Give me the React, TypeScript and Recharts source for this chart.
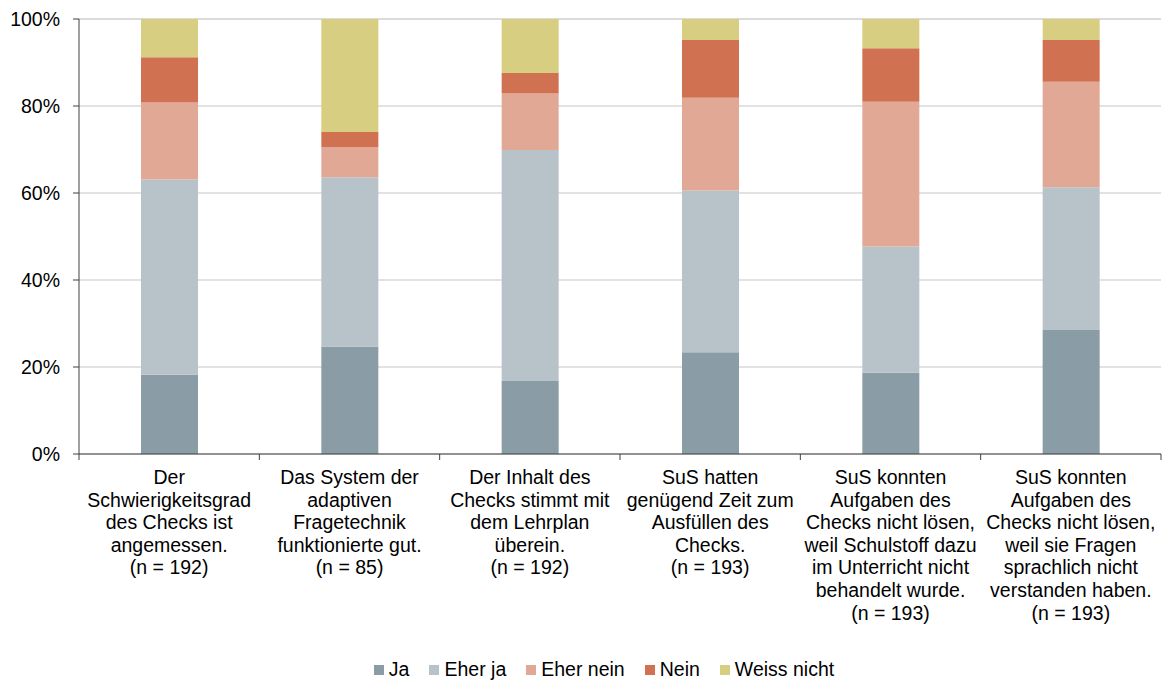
import { Bar, BarChart, CartesianGrid, Legend, XAxis, YAxis } from "recharts";

const categories = [
  "Der\nSchwierigkeitsgrad\ndes Checks ist\nangemessen.\n(n = 192)",
  "Das System der\nadaptiven\nFragetechnik\nfunktionierte gut.\n(n = 85)",
  "Der Inhalt des\nChecks stimmt mit\ndem Lehrplan\nüberein.\n(n = 192)",
  "SuS hatten\ngenügend Zeit zum\nAusfüllen des\nChecks.\n(n = 193)",
  "SuS konnten\nAufgaben des\nChecks nicht lösen,\nweil Schulstoff dazu\nim Unterricht nicht\nbehandelt wurde.\n(n = 193)",
  "SuS konnten\nAufgaben des\nChecks nicht lösen,\nweil sie Fragen\nsprachlich nicht\nverstanden haben.\n(n = 193)"
];

const ja = [18.2, 24.7, 16.8, 23.4, 18.7, 28.5];
const eherJa = [44.9, 38.9, 53.1, 37.2, 29.0, 32.8];
const eherNein = [17.7, 7.0, 13.0, 21.3, 33.3, 24.3];
const nein = [10.4, 3.4, 4.7, 13.3, 12.3, 9.6];
const weissNicht = [8.8, 26.0, 12.4, 4.8, 6.7, 4.8];

const yTicks = [0, 20, 40, 60, 80, 100];

const series = [
  { key: "ja", name: "Ja", color: "#8a9ca6" },
  { key: "eherJa", name: "Eher ja", color: "#b7c3c8" },
  { key: "eherNein", name: "Eher nein", color: "#e2a896" },
  { key: "nein", name: "Nein", color: "#d07152" },
  { key: "weissNicht", name: "Weiss nicht", color: "#d8ce82" }
];

const data = categories.map((label, i) => ({
  label,
  ja: ja[i],
  eherJa: eherJa[i],
  eherNein: eherNein[i],
  nein: nein[i],
  weissNicht: weissNicht[i]
}));

const WIDTH = 1163;
const HEIGHT = 681;
const margin = { top: 19, right: 2, bottom: 0, left: 0 };
const yAxisWidth = 79;
const band = (WIDTH - margin.left - margin.right - yAxisWidth) / categories.length;
const font = '"Liberation Sans", Arial, sans-serif';
const fontSize = 19.5;
const axisColor = "#404040";

function CategoryTick(props: any) {
  const { x, y, payload, index } = props;
  const lines = String(payload.value).split("\n");
  const axisY = y - 6;
  return (
    <g>
      <line x1={x - band / 2} x2={x - band / 2} y1={axisY} y2={axisY + 6} stroke={axisColor} />
      {index === categories.length - 1 ? (
        <line x1={x + band / 2} x2={x + band / 2} y1={axisY} y2={axisY + 6} stroke={axisColor} />
      ) : null}
      <text x={x} y={axisY + 30} textAnchor="middle" fontSize={fontSize} fill="#000" fontFamily={font}>
        {lines.map((line, i) => (
          <tspan key={i} x={x} dy={i === 0 ? 0 : 22.6}>
            {line}
          </tspan>
        ))}
      </text>
    </g>
  );
}

function LegendContent() {
  return (
    <div
      style={{
        display: "flex",
        justifyContent: "center",
        alignItems: "center",
        gap: 20,
        height: 24,
        fontFamily: font,
        fontSize,
        color: "#000",
        paddingLeft: 47
      }}
    >
      {series.map((s) => (
        <div key={s.key} style={{ display: "flex", alignItems: "center" }}>
          <span style={{ width: 10, height: 10, background: s.color, marginRight: 5, marginTop: 2, display: "inline-block" }} />
          <span>{s.name}</span>
        </div>
      ))}
    </div>
  );
}

export default function App() {
  return (
    <div style={{ position: "fixed", left: 0, top: 0, width: WIDTH, height: HEIGHT, background: "#fff" }}>
      <BarChart width={WIDTH} height={HEIGHT} data={data} margin={margin} barSize={57}>
        <CartesianGrid vertical={false} stroke="#d9d9d9" strokeWidth={1.5} />
        <XAxis
          dataKey="label"
          interval={0}
          height={203}
          tickSize={6}
          tickMargin={0}
          tickLine={false}
          axisLine={{ stroke: axisColor }}
          tick={<CategoryTick />}
        />
        <YAxis
          domain={[0, 100]}
          ticks={yTicks}
          width={yAxisWidth}
          tickFormatter={(v: number) => `${v}%`}
          tickSize={6}
          tickMargin={13}
          axisLine={{ stroke: axisColor }}
          tickLine={{ stroke: axisColor }}
          tick={{ fill: "#000", fontSize, fontFamily: font }}
        />
        <Legend verticalAlign="bottom" height={24} content={<LegendContent />} />
        {series.map((s) => (
          <Bar key={s.key} dataKey={s.key} name={s.name} stackId="a" fill={s.color} isAnimationActive={false} />
        ))}
      </BarChart>
    </div>
  );
}
